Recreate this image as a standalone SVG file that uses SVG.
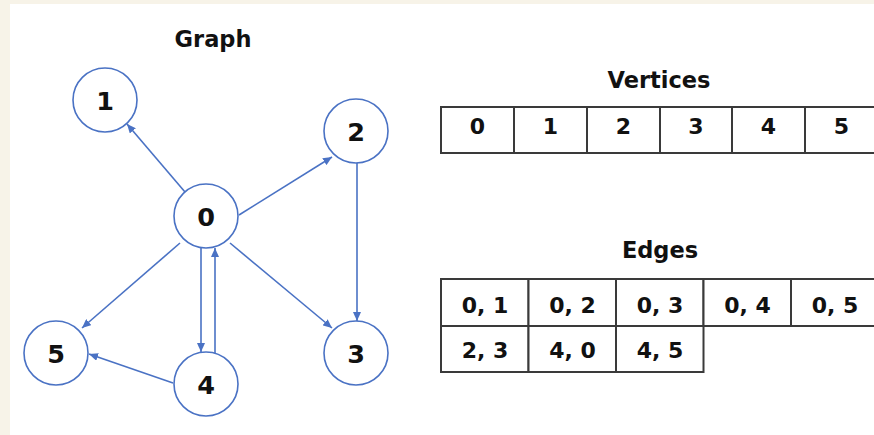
<svg xmlns="http://www.w3.org/2000/svg" width="874" height="435" viewBox="0 0 874 435">
  <style>
    .title { font-family: "DejaVu Sans", "Liberation Sans", sans-serif; font-weight: bold; font-size: 22.5px; fill: #111; text-anchor: middle; }
    .node circle { fill: #fff; stroke: #4a72c4; stroke-width: 1.6; }
    .node text { font-family: "DejaVu Sans", "Liberation Sans", sans-serif; font-weight: bold; font-size: 25.5px; fill: #111; text-anchor: middle; }
    .edge { stroke: #4a72c4; stroke-width: 1.6; fill: none; marker-end: url(#arrow); }
    .cell rect { fill: #fff; stroke: #3a3a3a; stroke-width: 2; }
    .cell text { font-family: "DejaVu Sans", "Liberation Sans", sans-serif; font-weight: bold; font-size: 22px; fill: #111; text-anchor: middle; }
  </style>
  <defs>
    <marker id="arrow" markerUnits="userSpaceOnUse" markerWidth="10" markerHeight="8" refX="9" refY="4" orient="auto">
      <path d="M0,0 L9,4 L0,8 z" fill="#4a72c4"/>
    </marker>
  </defs>

  <!-- page -->
  <rect x="0" y="0" width="874" height="435" fill="#f7f3e8"/>
  <rect x="10" y="4" width="864" height="431" fill="#ffffff"/>

  <!-- graph -->
  <text class="title" x="213" y="47" font-size="23">Graph</text>

  <g id="connectors">
    <line class="edge" x1="185" y1="192" x2="127" y2="124"/>
    <line class="edge" x1="239" y1="215" x2="332" y2="157"/>
    <line class="edge" x1="357" y1="163" x2="357" y2="321"/>
    <line class="edge" x1="230" y1="243" x2="332" y2="328"/>
    <line class="edge" x1="180" y1="243" x2="82" y2="328"/>
    <line class="edge" x1="201" y1="248" x2="201" y2="352"/>
    <line class="edge" x1="215" y1="353" x2="215" y2="248"/>
    <line class="edge" x1="173" y1="383" x2="89" y2="354"/>
  </g>

  <g id="node-0" class="node"><circle cx="206" cy="216" r="32"/><text x="206" y="226">0</text></g>
  <g id="node-1" class="node"><circle cx="105" cy="100" r="32"/><text x="105" y="110">1</text></g>
  <g id="node-2" class="node"><circle cx="356" cy="131" r="32"/><text x="356" y="141">2</text></g>
  <g id="node-3" class="node"><circle cx="356" cy="353" r="32"/><text x="356" y="363">3</text></g>
  <g id="node-4" class="node"><circle cx="206" cy="384" r="32"/><text x="206" y="394">4</text></g>
  <g id="node-5" class="node"><circle cx="56" cy="353" r="32"/><text x="56" y="363">5</text></g>

  <!-- vertex array -->
  <text class="title" x="659" y="88">Vertices</text>
  <g id="vertices">
    <g class="cell"><rect x="441" y="107" width="73" height="46"/><text x="477.5" y="134">0</text></g>
    <g class="cell"><rect x="514" y="107" width="73" height="46"/><text x="550.5" y="134">1</text></g>
    <g class="cell"><rect x="587" y="107" width="73" height="46"/><text x="623.5" y="134">2</text></g>
    <g class="cell"><rect x="660" y="107" width="72" height="46"/><text x="696" y="134">3</text></g>
    <g class="cell"><rect x="732" y="107" width="73" height="46"/><text x="768.5" y="134">4</text></g>
    <g class="cell"><rect x="805" y="107" width="73" height="46"/><text x="841.5" y="134">5</text></g>
  </g>

  <!-- edge list -->
  <text class="title" x="660" y="258">Edges</text>
  <g id="edges">
    <g class="cell"><rect x="441" y="279" width="87.5" height="47"/><text x="485" y="313">0, 1</text></g>
    <g class="cell"><rect x="528.5" y="279" width="87.5" height="47"/><text x="572.5" y="313">0, 2</text></g>
    <g class="cell"><rect x="616" y="279" width="87.5" height="47"/><text x="660" y="313">0, 3</text></g>
    <g class="cell"><rect x="703.5" y="279" width="87.5" height="47"/><text x="747.5" y="313">0, 4</text></g>
    <g class="cell"><rect x="791" y="279" width="87.5" height="47"/><text x="835" y="313">0, 5</text></g>
    <g class="cell"><rect x="441" y="326" width="87.5" height="46"/><text x="485" y="358">2, 3</text></g>
    <g class="cell"><rect x="528.5" y="326" width="87.5" height="46"/><text x="572.5" y="358">4, 0</text></g>
    <g class="cell"><rect x="616" y="326" width="87.5" height="46"/><text x="660" y="358">4, 5</text></g>
  </g>
</svg>
